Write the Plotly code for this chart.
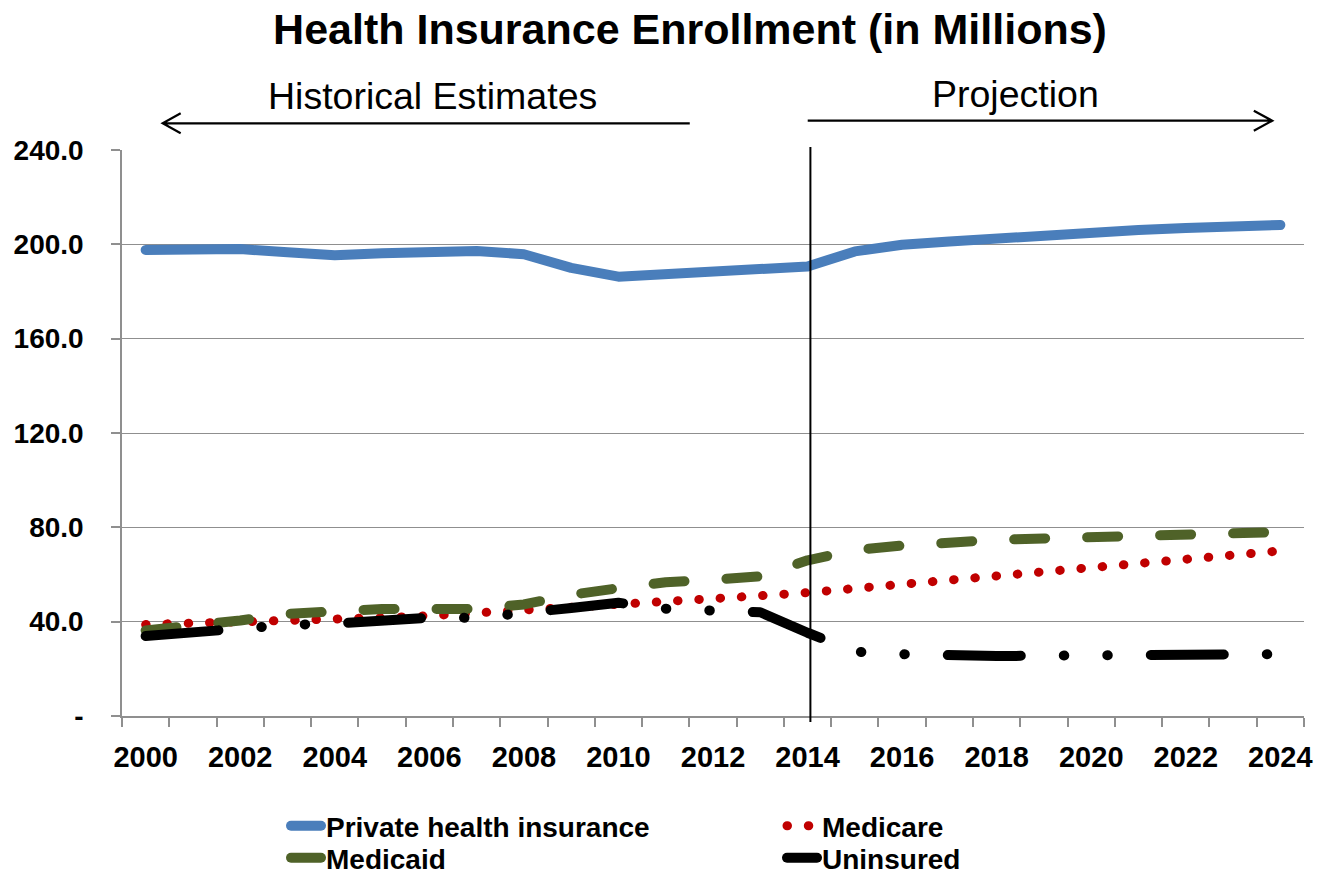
import plotly.graph_objects as go

# ---------------- data ----------------
years = list(range(2000, 2025))
private_ins = [197.6, 197.8, 198.0, 196.6, 195.4, 196.2, 196.8, 197.2, 195.8, 190.0,
               186.3, 187.2, 187.9, 189.2, 190.6, 197.0, 199.8, 201.2, 202.6, 204.0,
               205.2, 206.1, 206.9, 207.6, 208.2]
medicare = [38.8, 39.2, 39.6, 40.3, 41.0, 41.7, 42.5, 43.6, 44.8, 45.9,
            46.8, 47.9, 49.4, 51.0, 52.3, 54.0, 55.7, 57.4, 59.2, 60.9,
            62.7, 64.5, 66.3, 68.2, 70.0]
medicaid = [36.3, 37.9, 40.5, 43.3, 44.8, 45.4, 45.4, 45.4, 47.3, 51.4,
            54.2, 56.7, 57.8, 59.2, 66.0, 70.4, 72.3, 74.0, 74.7, 75.3,
            75.9, 76.5, 76.9, 77.5, 78.0]
uninsured = [33.9, 35.6, 37.3, 38.6, 39.2, 40.5, 41.7, 41.6, 43.2, 45.8,
             48.0, 45.5, 44.7, 44.0, 35.3, 27.3, 26.2, 25.6, 25.4, 25.6,
             25.9, 26.1, 26.2, 26.2, 26.2]

series_names = ["Private health insurance", "Medicare", "Medicaid", "Uninsured"]
x_tick_years = list(range(2000, 2025, 2))
y_tick_vals = [0, 40, 80, 120, 160, 200, 240]
y_tick_text = ["-", "40.0", "80.0", "120.0", "160.0", "200.0", "240.0"]
projection_start = 2014

# ---------------- layout geometry ----------------
W, H = 1317, 877
ML, MR, MT, MB = 122, 12.5, 150, 161


def px(xp):
    return (xp - ML) / (W - ML - MR)


def py(yp):
    return (H - MB - yp) / (H - MT - MB)


FONT = "Liberation Sans, Arial, sans-serif"
GRID = "#8f8f8f"

fig = go.Figure()
fig.add_trace(go.Scatter(x=years, y=private_ins, name=series_names[0], mode="lines",
                         legend="legend",
                         line=dict(color="#4A7EBB", width=10)))
fig.add_trace(go.Scatter(x=years, y=medicare, name=series_names[1], mode="lines",
                         legend="legend",
                         line=dict(color="#C00000", width=9, dash="0.5px,20.8px")))
fig.add_trace(go.Scatter(x=years, y=medicaid, name=series_names[2], mode="lines",
                         legend="legend2",
                         line=dict(color="#4F6228", width=10, dash="31px,42px")))
fig.add_trace(go.Scatter(x=years, y=uninsured, name=series_names[3], mode="lines",
                         legend="legend2",
                         line=dict(color="#000000", width=10,
                                   dash="73px,43px,0.5px,43px,0.5px,43px")))


def arrow_path(pts_segments):
    parts = []
    for seg in pts_segments:
        for i, (a, b) in enumerate(seg):
            parts.append(("M" if i == 0 else "L") + f"{px(a):.5f},{py(b):.5f}")
    return " ".join(parts)


left_arrow = arrow_path([[(690, 123.3), (162.7, 123.3)],
                         [(180.7, 113.3), (162.7, 123.3), (180.7, 133.3)]])
right_arrow = arrow_path([[(808, 120.7), (1272.7, 120.7)],
                          [(1254.3, 110.7), (1272.7, 120.7), (1254.3, 130.7)]])

legend_style = dict(orientation="h", xref="container", yref="container",
                    x=286 / W, xanchor="left", yanchor="top",
                    entrywidth=451, entrywidthmode="pixels",
                    font=dict(size=28, family=FONT, color="black", weight="bold"),
                    bgcolor="rgba(0,0,0,0)", tracegroupgap=0)

fig.update_layout(
    width=W, height=H, autosize=False,
    margin=dict(l=ML, r=MR, t=MT, b=MB, pad=0, autoexpand=False),
    paper_bgcolor="white", plot_bgcolor="white",
    font=dict(family=FONT, color="black"),
    title=dict(text="<b>Health Insurance Enrollment (in Millions)</b>",
               font=dict(size=43, family=FONT, color="black"),
               xref="container", x=690 / W, xanchor="center",
               yref="container", y=1 - 29 / H, yanchor="middle"),
    xaxis=dict(range=[1999.5, 2024.5], tickvals=x_tick_years,
               ticktext=[str(v) for v in x_tick_years],
               ticks="", showgrid=False, zeroline=False, automargin=False,
               showline=True, linecolor=GRID, linewidth=1.5,
               tickfont=dict(size=29, family=FONT, color="black", weight="bold"),
               ticklabelstandoff=14,
               minor=dict(tickvals=[y - 0.5 for y in years] + [2024.5],
                          ticks="outside", ticklen=9, tickcolor=GRID, tickwidth=1.5,
                          showgrid=False)),
    yaxis=dict(range=[0, 240], tickvals=y_tick_vals, ticktext=y_tick_text,
               ticks="outside", ticklen=9, tickcolor=GRID, tickwidth=1.5,
               showgrid=True, gridcolor=GRID, gridwidth=1.4, zeroline=False,
               showline=True, linecolor=GRID, linewidth=1.5, automargin=False,
               tickfont=dict(size=28, family=FONT, color="black", weight="bold"),
               ticklabelstandoff=22),
    showlegend=True,
    legend=dict(legend_style, y=1 - 801 / H),
    legend2=dict(legend_style, y=1 - 833 / H),
    shapes=[
        dict(type="line", xref="x", yref="paper", x0=projection_start + 0.06,
             x1=projection_start + 0.06, y0=py(722), y1=py(147),
             line=dict(color="black", width=2)),
        dict(type="path", xref="paper", yref="paper", path=left_arrow,
             line=dict(color="black", width=2.2)),
        dict(type="path", xref="paper", yref="paper", path=right_arrow,
             line=dict(color="black", width=2.2)),
    ],
    annotations=[
        dict(text="Historical Estimates", xref="paper", yref="paper",
             x=px(433), y=py(96), xanchor="center", yanchor="middle",
             showarrow=False, font=dict(size=37.5, family=FONT, color="black")),
        dict(text="Projection", xref="paper", yref="paper",
             x=px(1016), y=py(94), xanchor="center", yanchor="middle",
             showarrow=False, font=dict(size=37.5, family=FONT, color="black")),
    ],
)

post = """
document.body.style.margin = '0';
document.body.style.padding = '0';
var gd = document.getElementById('{plot_id}');
function fixCaps(){
  gd.querySelectorAll('path.js-line, .legendlines path').forEach(function(p){
    p.style.strokeLinecap = 'round';
    p.style.strokeLinejoin = 'round';
  });
}
fixCaps();
gd.on('plotly_afterplot', fixCaps);
"""

fig.write_html("out.html", post_script=post, config={"displayModeBar": False})
